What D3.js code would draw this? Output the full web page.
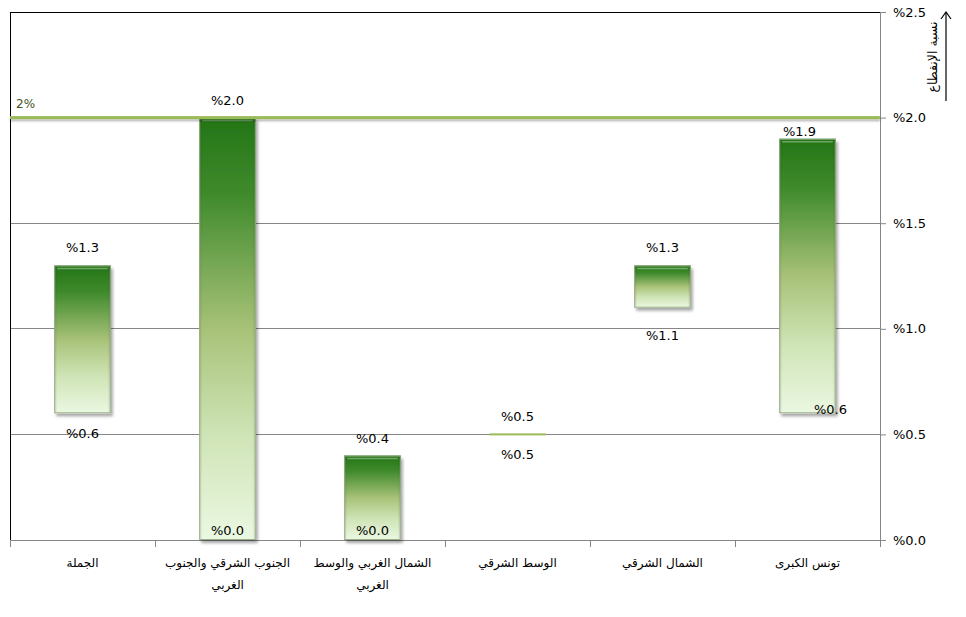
<!DOCTYPE html>
<html><head><meta charset="utf-8">
<script src="https://cdn.jsdelivr.net/npm/d3@7"></script>
<style>
html,body{margin:0;padding:0;background:#fff;}
svg{display:block;}
</style>
</head><body>
<svg id="chart" width="966" height="617"></svg>
<script>
const categories = ["الجملة", "الجنوب الشرقي والجنوب الغربي", "الشمال الغربي والوسط الغربي", "الوسط الشرقي", "الشمال الشرقي", "تونس الكبرى"];
const categoryLines = [["الجملة"], ["الجنوب الشرقي والجنوب", "الغربي"], ["الشمال الغربي والوسط", "الغربي"], ["الوسط الشرقي"], ["الشمال الشرقي"], ["تونس الكبرى"]];
const lowValues = [0.6, 0.0, 0.0, 0.5, 1.1, 0.6];
const highValues = [1.3, 2.0, 0.4, 0.5, 1.3, 1.9];
const yTicks = [0, 0.5, 1.0, 1.5, 2.0, 2.5];
const referenceValue = 2;
const referenceLabel = "2%";
const axisTitle = "نسبة الإنقطاع";

(function () {
const svg = d3.select("#chart");
const pLeft = 10, pRight = 880, pTop = 12, pBottom = 540;
const numFont = "'DejaVu Sans', Tahoma, sans-serif";

const x = d3.scaleBand().domain(categories).range([pLeft, pRight]);
const y = d3.scaleLinear().domain([0, 2.5]).range([pBottom, pTop]);
const fmt = v => "%" + d3.format(".1f")(v);

const defs = svg.append("defs");
const grad = defs.append("linearGradient").attr("id", "barGrad")
  .attr("x1", 0).attr("y1", 0).attr("x2", 0).attr("y2", 1);
[[0, "#237516"], [0.18, "#3f8a2c"], [0.5, "#a8c278"], [0.75, "#cfe4b6"], [1, "#ebf8e2"]]
  .forEach(([o, c]) => grad.append("stop").attr("offset", o).attr("stop-color", c));
const edge = defs.append("linearGradient").attr("id", "edgeGrad")
  .attr("x1", 0).attr("y1", 0).attr("x2", 1).attr("y2", 0);
[[0, "#000", 0.12], [0.06, "#000", 0.0], [0.94, "#000", 0.0], [1, "#000", 0.12]]
  .forEach(([o, c, a]) => edge.append("stop").attr("offset", o).attr("stop-color", c).attr("stop-opacity", a));
const sh = defs.append("filter").attr("id", "shadow").attr("x", "-20%").attr("y", "-20%").attr("width", "150%").attr("height", "150%");
sh.append("feDropShadow").attr("dx", 2).attr("dy", 3).attr("stdDeviation", 1.8).attr("flood-color", "#000").attr("flood-opacity", 0.35);
const lsh = defs.append("filter").attr("id", "lshadow").attr("filterUnits", "userSpaceOnUse")
  .attr("x", 0).attr("y", 100).attr("width", 966).attr("height", 40);
lsh.append("feDropShadow").attr("dx", 0).attr("dy", 2).attr("stdDeviation", 1.2).attr("flood-color", "#000").attr("flood-opacity", 0.3);

// gridlines
svg.append("g").selectAll("line").data(yTicks.filter(t => t > 0 && t < 2.5)).join("line")
  .attr("x1", pLeft).attr("x2", pRight).attr("y1", d => y(d)).attr("y2", d => y(d))
  .attr("stroke", "#868686").attr("stroke-width", 1).attr("shape-rendering", "crispEdges");
svg.append("line").attr("x1", pLeft).attr("x2", pRight).attr("y1", y(2.5)).attr("y2", y(2.5))
  .attr("stroke", "#000").attr("shape-rendering", "crispEdges");
svg.append("line").attr("x1", pLeft).attr("x2", pLeft).attr("y1", y(2.5)).attr("y2", pBottom)
  .attr("stroke", "#000").attr("shape-rendering", "crispEdges");

// right axis
const yAxis = d3.axisRight(y).tickValues(yTicks).tickSize(6).tickPadding(7).tickFormat(fmt);
const ya = svg.append("g").attr("transform", `translate(${pRight},0)`).call(yAxis);
ya.select(".domain").attr("stroke", "#868686");
ya.selectAll(".tick line").attr("stroke", "#868686");
ya.selectAll(".tick text").attr("font-family", numFont).attr("font-size", 13).attr("fill", "#000");

// bottom axis
const xa = svg.append("g").attr("transform", `translate(0,${pBottom})`);
xa.append("line").attr("x1", pLeft).attr("x2", pRight).attr("stroke", "#868686").attr("shape-rendering", "crispEdges");
const boundaries = categories.map(c => x(c)).concat([x(categories[categories.length - 1]) + x.bandwidth()]);
xa.selectAll("line.t").data(boundaries).join("line").attr("class", "t")
  .attr("x1", d => d).attr("x2", d => d).attr("y1", 0).attr("y2", 7)
  .attr("stroke", "#868686").attr("shape-rendering", "crispEdges");
categories.forEach((c, i) => {
  const t = svg.append("text").attr("text-anchor", "middle").attr("direction", "rtl")
    .attr("font-family", "'DejaVu Sans', sans-serif").attr("font-size", 12).attr("fill", "#000");
  categoryLines[i].forEach((ln, j) => {
    t.append("tspan").attr("x", x(c) + x.bandwidth() / 2).attr("y", 567 + j * 22).text(ln);
  });
});

// bars
const bw = x.bandwidth() * 0.39;
const bars = svg.append("g");
categories.forEach((c, i) => {
  const cx = x(c) + x.bandwidth() / 2;
  const lo = lowValues[i], hi = highValues[i];
  const h = y(lo) - y(hi);
  if (h < 1) {
    bars.append("rect").attr("x", cx - bw / 2).attr("y", y(hi) - 1).attr("width", bw).attr("height", 2)
      .attr("fill", "#9bbb59");
  } else {
    const g = bars.append("g");
    g.append("rect").attr("x", cx - bw / 2).attr("y", y(hi)).attr("width", bw).attr("height", h)
      .attr("fill", "url(#barGrad)").attr("filter", "url(#shadow)");
    g.append("rect").attr("x", cx - bw / 2).attr("y", y(hi)).attr("width", bw).attr("height", h)
      .attr("fill", "url(#edgeGrad)");
    g.append("rect").attr("x", cx - bw / 2 + 0.5).attr("y", y(hi) + 0.5).attr("width", bw - 1).attr("height", h - 1)
      .attr("fill", "none").attr("stroke", "#9aae8a").attr("stroke-width", 1);
    g.append("line").attr("x1", cx - bw / 2 + 3).attr("x2", cx + bw / 2 - 3).attr("y1", y(hi) + 3).attr("y2", y(hi) + 3)
      .attr("stroke", "#fff").attr("stroke-opacity", 0.35).attr("stroke-width", 1.5);
  }
});

// reference line
svg.append("rect").attr("x", pLeft).attr("y", y(referenceValue) - 1.5).attr("width", pRight - pLeft).attr("height", 3)
  .attr("fill", "#9bbb59").attr("filter", "url(#lshadow)");
svg.append("text").attr("x", 16).attr("y", y(referenceValue) - 10).attr("font-family", numFont)
  .attr("font-size", 12).attr("fill", "#3f5220").text(referenceLabel);

// data labels
const lab = svg.append("g").attr("font-family", numFont).attr("font-size", 13).attr("fill", "#000").attr("text-anchor", "middle");
categories.forEach((c, i) => {
  const cx = x(c) + x.bandwidth() / 2;
  const lo = lowValues[i], hi = highValues[i];
  let hy = y(hi) - 13, hx = cx;
  if (c === "تونس الكبرى") { hy = y(hi) - 3; hx = cx - 8; }
  lab.append("text").attr("x", hx).attr("y", hy).text(fmt(hi));
  let ly = lo === 0 ? y(lo) - 5 : y(lo) + 25, lx = cx;
  if (c === "الشمال الشرقي") ly = y(lo) + 32;
  if (c === "تونس الكبرى") { ly = y(lo) + 1; lx = cx + 23; }
  lab.append("text").attr("x", lx).attr("y", ly).text(fmt(lo));
});

// axis title with arrow
svg.append("text").attr("transform", "translate(937,57) rotate(-90)").attr("text-anchor", "middle")
  .attr("direction", "rtl").attr("font-family", "'DejaVu Sans', sans-serif").attr("font-size", 12.5).attr("fill", "#000")
  .text(axisTitle);
svg.append("line").attr("x1", 946).attr("x2", 946).attr("y1", 101).attr("y2", 12).attr("stroke", "#000").attr("stroke-width", 1.2);
svg.append("path").attr("d", "M941,19 L946,12 L951,19").attr("fill", "none").attr("stroke", "#000").attr("stroke-width", 1.2);
})();
</script>
</body></html>
